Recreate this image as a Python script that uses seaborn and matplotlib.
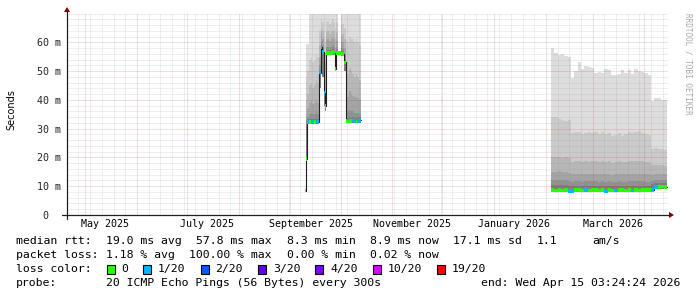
import numpy as np
import pandas as pd
import matplotlib
matplotlib.use("Agg")
import matplotlib.pyplot as plt
import matplotlib.dates as mdates
import matplotlib.ticker as mticker
from matplotlib.patches import Rectangle, Polygon
from matplotlib.lines import Line2D
import seaborn as sns

# ------------------------------------------------------------------ data
end_time = "2026-04-15 03:24:24"
span_days = 360

# segment 1 (September / October 2025)
seg1_start = ["2025-09-10 00:00", "2025-09-10 12:00", "2025-09-11", "2025-09-12", "2025-09-13",
              "2025-09-14", "2025-09-15", "2025-09-16", "2025-09-17", "2025-09-18",
              "2025-09-19", "2025-09-20", "2025-09-21 00:00", "2025-09-21 12:00", "2025-09-22",
              "2025-09-23", "2025-09-24", "2025-09-25", "2025-09-26", "2025-09-27 00:00",
              "2025-09-27 12:00", "2025-09-28", "2025-09-29 00:00", "2025-09-29 12:00", "2025-10-01",
              "2025-10-02", "2025-10-03", "2025-10-04", "2025-10-05", "2025-10-06",
              "2025-10-07", "2025-10-08", "2025-10-09", "2025-10-10", "2025-10-11",
              "2025-10-12"]
seg1_stop = "2025-10-13 00:00"
seg1_median = [8.5, 19.5, 32.3, 32.3, 32.4, 32.2, 32.3, 32.5, 32.3, 49.5,
               58.2, 56.7, 42.5, 37.9, 56.3, 56.4, 56.2, 56.3, 56.5, 56.3,
               50.6, 56.3, 56.3, 56.3, 55.9, 56.0, 53.0, 32.6, 32.5, 32.7,
               32.6, 32.8, 32.6, 32.5, 32.7, 32.9]
seg1_loss = [0, 0, 1, 0, 1, 1, 0, 1, 1, 1,
             1, 1, 1, 0, 0, 0, 0, 0, 0, 0,
             0, 0, 0, 0, 0, 0, 0, 0, 0, 0,
             0, 1, 1, 0, 1, 1]
seg1_lo = [8.5, 19.0, 31.6, 31.6, 31.6, 31.5, 31.6, 31.7, 31.6, 44.0,
           50.0, 48.0, 38.0, 36.0, 55.5, 55.6, 55.5, 55.5, 55.7, 55.5,
           50.0, 55.5, 55.5, 55.8, 55.2, 55.3, 50.0, 32.0, 32.0, 32.1,
           32.0, 32.1, 32.0, 31.9, 32.0, 32.1]
seg1_p1 = [8.5, 59.5, 59.5, 72, 72, 72, 72, 72, 72, 72,
           72, 72, 72, 72, 72, 72, 72, 72, 72, 72,
           72, 72, 72, 56.9, 72, 72, 72, 72, 72, 72,
           72, 72, 72, 72, 72, 72]
seg1_p2 = [8.5, 48.0, 50.0, 54.0, 55.0, 53.0, 54.0, 56.0, 55.0, 64.0,
           68.0, 67.0, 62.0, 60.0, 67.0, 67.5, 66.5, 67.0, 68.0, 67.0,
           65.0, 67.0, 67.0, 56.8, 66.0, 66.5, 65.0, 61.0, 60.0, 62.0,
           61.0, 61.0, 60.0, 61.0, 60.0, 59.0]
seg1_p3 = [8.5, 40.0, 42.0, 45.0, 46.0, 44.0, 45.0, 47.0, 46.0, 59.0,
           65.0, 64.0, 56.0, 53.0, 63.5, 64.0, 63.0, 63.5, 64.0, 63.5,
           61.0, 63.5, 63.0, 56.7, 62.5, 63.0, 61.0, 50.0, 49.0, 51.0,
           50.0, 49.0, 48.0, 49.0, 48.0, 47.0]
seg1_p4 = [8.5, 35.0, 37.0, 39.0, 40.0, 38.5, 39.0, 40.0, 39.0, 55.0,
           63.0, 61.0, 51.0, 47.0, 61.0, 61.0, 60.5, 61.0, 61.5, 61.0,
           58.0, 61.0, 60.5, 56.6, 60.0, 60.0, 58.0, 42.0, 41.0, 43.0,
           42.0, 41.5, 41.0, 41.0, 40.5, 40.0]
seg1_p5 = [8.5, 33.0, 34.0, 35.0, 35.5, 35.0, 35.0, 36.0, 35.0, 52.0,
           60.5, 59.0, 47.0, 42.0, 58.5, 58.5, 58.3, 58.5, 59.0, 58.5,
           55.0, 58.5, 58.3, 56.5, 58.0, 58.0, 55.5, 36.0, 36.0, 36.5,
           36.0, 36.0, 35.5, 35.5, 35.5, 35.0]
seg1_p6 = [8.5, 31.0, 33.2, 33.3, 33.4, 33.2, 33.3, 33.5, 33.3, 50.5,
           59.2, 57.7, 44.0, 39.5, 57.3, 57.4, 57.2, 57.3, 57.5, 57.3,
           52.0, 57.3, 57.3, 56.4, 57.0, 57.1, 54.2, 33.8, 33.7, 33.9,
           33.8, 34.0, 33.8, 33.7, 33.9, 34.0]

# segment 2 (February - April 2026), 2-day steps
seg2_start = ["2026-02-04", "2026-02-06", "2026-02-08", "2026-02-10", "2026-02-12",
              "2026-02-14", "2026-02-16", "2026-02-18", "2026-02-20", "2026-02-22",
              "2026-02-24", "2026-02-26", "2026-02-28", "2026-03-02", "2026-03-04",
              "2026-03-06", "2026-03-08", "2026-03-10", "2026-03-12", "2026-03-14",
              "2026-03-16", "2026-03-18", "2026-03-20", "2026-03-22", "2026-03-24",
              "2026-03-26", "2026-03-28", "2026-03-30", "2026-04-01", "2026-04-03",
              "2026-04-05", "2026-04-07", "2026-04-09", "2026-04-11", "2026-04-13"]
seg2_stop = "2026-04-14 18:00"
seg2_median = [8.6, 8.5, 8.6, 8.5, 8.6, 8.4, 8.4, 8.6, 8.6, 8.5,
               8.6, 8.5, 8.6, 8.6, 8.5, 8.6, 8.4, 8.6, 8.5, 8.5,
               8.6, 8.6, 8.5, 8.6, 8.5, 8.6, 8.5, 8.6, 8.6, 8.7,
               8.8, 9.8, 9.8, 9.9, 9.7]
seg2_loss = [0, 0, 0, 0, 0, 1, 1, 0, 0, 0,
             1, 0, 0, 0, 0, 0, 1, 0, 0, 1,
             0, 0, 0, 0, 1, 0, 0, 0, 0, 0,
             1, 1, 0, 0, 0]
seg2_lo = [8.1, 8.0, 8.1, 8.0, 8.1, 8.0, 8.0, 8.1, 8.1, 8.0,
           8.1, 8.0, 8.1, 8.1, 8.0, 8.1, 8.0, 8.1, 8.0, 8.0,
           8.1, 8.1, 8.0, 8.1, 8.0, 8.1, 8.0, 8.1, 8.1, 8.2,
           8.3, 8.9, 9.0, 9.0, 8.9]
seg2_p1 = [58.1, 56.3, 55.7, 55.9, 55.3, 54.8, 47.6, 49.9, 53.0, 50.7,
           51.9, 51.5, 51.2, 49.5, 49.8, 49.3, 50.8, 50.5, 48.7, 48.5,
           49.0, 50.2, 49.2, 50.5, 49.0, 50.6, 49.9, 49.8, 49.5, 48.5,
           39.5, 40.6, 40.8, 40.0, 39.8]
seg2_p2 = [34.2, 34.0, 33.2, 33.0, 32.8, 33.1, 28.5, 29.0, 28.8, 28.2,
           28.6, 28.9, 28.4, 28.7, 28.3, 28.8, 28.0, 28.5, 27.6, 27.9,
           28.6, 27.5, 28.1, 29.0, 28.4, 28.8, 29.2, 28.6, 28.3, 27.8,
           23.0, 23.3, 23.1, 22.8, 22.6]
seg2_p3 = [20.3, 20.0, 20.3, 19.8, 20.1, 19.9, 18.5, 18.8, 18.6, 18.3,
           18.7, 18.5, 18.6, 18.8, 18.4, 18.7, 18.3, 18.6, 18.2, 18.4,
           18.7, 18.5, 18.4, 18.9, 18.6, 18.7, 18.8, 18.6, 18.5, 18.3,
           17.2, 17.4, 17.3, 17.2, 17.0]
seg2_p4 = [15.0, 14.8, 15.2, 14.9, 15.1, 14.7, 14.2, 14.4, 14.3, 14.1,
           14.4, 14.2, 14.3, 14.3, 14.2, 14.4, 14.1, 14.3, 14.0, 14.1,
           14.3, 14.2, 14.1, 14.4, 14.2, 14.3, 14.4, 14.3, 14.2, 14.1,
           14.0, 14.2, 14.3, 14.2, 14.1]
seg2_p5 = [12.2, 12.0, 12.3, 12.0, 12.2, 11.9, 11.6, 11.8, 11.7, 11.6,
           11.8, 11.7, 11.7, 11.8, 11.6, 11.8, 11.6, 11.7, 11.5, 11.6,
           11.7, 11.6, 11.6, 11.8, 11.7, 11.7, 11.8, 11.7, 11.6, 11.6,
           11.9, 12.2, 12.3, 12.2, 12.1]
seg2_p6 = [10.4, 10.3, 10.5, 10.3, 10.4, 10.2, 10.1, 10.2, 10.2, 10.1,
           10.2, 10.1, 10.2, 10.2, 10.1, 10.2, 10.1, 10.2, 10.0, 10.1,
           10.2, 10.1, 10.1, 10.2, 10.1, 10.2, 10.2, 10.2, 10.1, 10.1,
           10.6, 11.0, 11.1, 11.0, 11.0]

loss_levels = [0, 1, 2, 3, 4, 10, 19]
loss_labels = ["0", "1/20", "2/20", "3/20", "4/20", "10/20", "19/20"]
loss_colors = ["#26ff00", "#00b8ff", "#0059ff", "#5e00ff", "#7e00ff", "#dd00ff", "#ff0000"]
smoke_grays = ["#dddddd", "#cacaca", "#b7b7b7", "#a4a4a4", "#919191", "#7e7e7e"]

y_ticks = [0, 10, 20, 30, 40, 50, 60]
y_tick_labels = ["0  ", "10 m", "20 m", "30 m", "40 m", "50 m", "60 m"]
month_labels = ["May 2025", "July 2025", "September 2025", "November 2025", "January 2026", "March 2026"]
month_label_at = ["2025-05-13", "2025-07-13", "2025-09-13", "2025-11-13", "2026-01-13", "2026-03-13"]

row1 = [("median rtt:", 16), ("19.0 ms avg", 106), ("57.8 ms max", 196.3), ("8.3 ms min", 286.6),
        ("8.9 ms now", 370), ("17.1 ms sd", 453.4), ("1.1", 536.8), ("am/s", 592.5)]
row2 = [("packet loss:", 16), ("1.18 % avg", 106), ("100.00 % max", 189.4), ("0.00 % min", 286.6),
        ("0.02 % now", 370)]
row3_title = ("loss color:", 16)
row3_box_x = [106.5, 143.2, 200.6, 258.0, 315.4, 372.8, 437.1]
row3_text_x = [121.4, 158.1, 215.5, 272.9, 330.3, 387.7, 452.0]
row4_left = [("probe:", 16), ("20 ICMP Echo Pings (56 Bytes) every 300s", 106)]
row4_right = ("end: Wed Apr 15 03:24:24 2026", 680.5)

# ------------------------------------------------------------------ style
sns.set_style("white")
plt.rcParams["font.family"] = ["DejaVu Sans Mono", "DejaVu Sans"]
MONO = "DejaVu Sans Mono"
W, H = 697, 297
fig = plt.figure(figsize=(W / 100, H / 100), dpi=100, facecolor="white")

L, R, T, B = 67, 668, 13.5, 215
ax = fig.add_axes([L / W, 1 - B / H, (R - L) / W, (B - T) / H])
ax.set_facecolor("white")

t_end = pd.Timestamp(end_time)
t_start = t_end - pd.Timedelta(days=span_days)


def to_num(strings):
    return mdates.date2num(pd.to_datetime(list(strings), format="mixed"))


def loss_color(n):
    idx = 0
    for i, lv in enumerate(loss_levels):
        if n >= lv:
            idx = i
    return loss_colors[idx]


def draw_segment(starts, stop, med, loss, lo, highs):
    edges = to_num(list(starts) + [stop])
    lo_ext = np.r_[lo, lo[-1]]
    for hi, col in zip(highs, smoke_grays):
        hi_ext = np.r_[hi, hi[-1]]
        ax.fill_between(edges, lo_ext, hi_ext, step="post", color=col, lw=0, zorder=1)
    med = np.asarray(med, float)
    sns.lineplot(x=edges, y=np.r_[med, med[-1]], drawstyle="steps-post", color="#202020",
                 lw=0.8, ax=ax, zorder=3, estimator=None)
    widths = np.diff(edges)
    band = 1.3
    ax.bar(edges[:-1], height=band, bottom=med - band / 2, width=widths, align="edge",
           color=[loss_color(n) for n in loss], lw=0, zorder=4)


draw_segment(seg1_start, seg1_stop, seg1_median, seg1_loss, seg1_lo,
             [seg1_p1, seg1_p2, seg1_p3, seg1_p4, seg1_p5, seg1_p6])
draw_segment(seg2_start, seg2_stop, seg2_median, seg2_loss, seg2_lo,
             [seg2_p1, seg2_p2, seg2_p3, seg2_p4, seg2_p5, seg2_p6])

ax.set_xlim(mdates.date2num(t_start), mdates.date2num(t_end))
ax.set_ylim(0, 70)
ax.set_xlabel("")
ax.set_ylabel("")

# grids
ax.xaxis.set_major_locator(mdates.MonthLocator())
ax.xaxis.set_minor_locator(mdates.WeekdayLocator(byweekday=mdates.SU))
ax.xaxis.set_major_formatter(mticker.NullFormatter())
ax.xaxis.set_minor_formatter(mticker.NullFormatter())
ax.yaxis.set_major_locator(mticker.FixedLocator(y_ticks))
ax.yaxis.set_major_formatter(mticker.FixedFormatter(y_tick_labels))
ax.yaxis.set_minor_locator(mticker.MultipleLocator(2))
ax.set_axisbelow(False)
ax.grid(which="major", color="#c02828", alpha=0.3, ls=(0, (1, 1)), lw=0.72)
ax.grid(which="minor", color="#8c8c8c", alpha=0.28, ls=(0, (1, 1)), lw=0.72)
for sp in ax.spines.values():
    sp.set_visible(False)
ax.tick_params(axis="x", which="major", direction="out", length=2.2, width=0.72, color="#202020")
ax.tick_params(axis="x", which="minor", length=0)
ax.tick_params(axis="y", which="major", direction="out", length=2.2, width=0.72, color="#202020",
               pad=2.0, labelsize=7.2, labelfontfamily=MONO)
ax.tick_params(axis="y", which="minor", direction="out", length=1.2, width=0.72, color="#202020")

xt = ax.get_xaxis_transform()
for lab, d in zip(month_labels, month_label_at):
    ax.text(to_num([d])[0], -0.047, lab, transform=xt, ha="center", va="center",
            fontsize=7.2, family=MONO, color="black")

# overlay in pixel coordinates for axes lines, arrows and legend
ov = fig.add_axes([0, 0, 1, 1], facecolor="none")
ov.set_xlim(0, W)
ov.set_ylim(H, 0)
ov.axis("off")
ov.add_line(Line2D([62, 669], [215, 215], color="#202020", lw=0.9))
ov.add_line(Line2D([67, 67], [219, 11], color="#202020", lw=0.9))
ov.add_patch(Polygon([[64, 12], [70, 12], [67, 7]], closed=True, color="#7f0000", lw=0))
ov.add_patch(Polygon([[669, 212], [669, 218], [674, 215]], closed=True, color="#7f0000", lw=0))

ov.text(11, 110, "Seconds", rotation=90, ha="center", va="center", fontsize=7,
        family="DejaVu Sans", color="black")
ov.text(688, 13, "RRDTOOL / TOBI OETIKER", rotation=270, ha="center", va="top",
        fontsize=5.5, family=MONO, color="#a8a8a8")

LEG = 8.25
ys = [241, 255, 269, 283]
for s, x in row1:
    ov.text(x, ys[0], s, ha="left", va="center", fontsize=LEG, family=MONO, color="black")
for s, x in row2:
    ov.text(x, ys[1], s, ha="left", va="center", fontsize=LEG, family=MONO, color="black")
ov.text(row3_title[1], ys[2], row3_title[0], ha="left", va="center", fontsize=LEG, family=MONO, color="black")
for bx, tx, lab, col in zip(row3_box_x, row3_text_x, loss_labels, loss_colors):
    ov.add_patch(Rectangle((bx, ys[2] - 4.5), 8, 9, facecolor=col, edgecolor="black", lw=0.8))
    ov.text(tx, ys[2], lab, ha="left", va="center", fontsize=LEG, family=MONO, color="black")
for s, x in row4_left:
    ov.text(x, ys[3], s, ha="left", va="center", fontsize=LEG, family=MONO, color="black")
ov.text(row4_right[1], ys[3], row4_right[0], ha="right", va="center", fontsize=LEG, family=MONO,
        color="black")

fig.savefig("out.png", dpi=100, facecolor="white")
